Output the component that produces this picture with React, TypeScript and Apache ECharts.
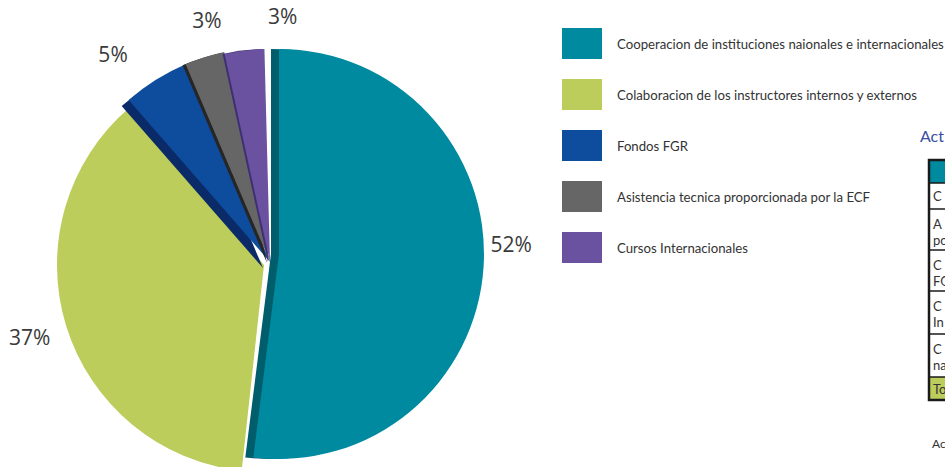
import React, { useEffect, useRef } from "react";
import * as echarts from "echarts";

// ---- data ----
const categories: string[] = [
  "Cooperacion de instituciones naionales e internacionales",
  "Colaboracion de los instructores internos y externos",
  "Fondos FGR",
  "Asistencia tecnica proporcionada por la ECF",
  "Cursos Internacionales",
];
const values: number[] = [52, 37, 5, 3, 3];

// visible fragments of the clipped table at the right edge
const tableTitle = "Act";
const tableRows: string[][] = [["C"], ["A", "po"], ["C", "FG"], ["C", "In"], ["C", "na"]];
const tableTotal = "To";
const footNote = "Ac";

// ---- styles / layout ----
const colors = ["#008a9f", "#bccd5b", "#0e4d9e", "#666666", "#6a52a1"];
const sideColors: (string | null)[] = ["#005e6c", null, "#0b2a68", "#262626", "#3e2f72"];
const centers: number[][] = [
  [279, 254],
  [264, 265],
  [270, 262],
  [270, 262],
  [270, 262],
];
const radii = [205, 207, 215, 215, 213];
const startAngles = [90, 91, 91.5, 91.5, 91.5];
const sideOffsets: number[][] = [
  [-8, 0],
  [0, 0],
  [-7, 6],
  [-3, 1],
  [-2, 0],
];
const labelShift: number[][] = [
  [2, -23],
  [-11, 11],
  [-23, -26],
  [22, -37],
  [58, -35],
];

function slicePie(i: number, color: string, dx: number, dy: number, withLabel: boolean) {
  return {
    type: "pie",
    silent: true,
    clockwise: true,
    startAngle: startAngles[i],
    center: [centers[i][0] + dx, centers[i][1] + dy],
    radius: [0, radii[i]],
    avoidLabelOverlap: false,
    label: {
      show: withLabel,
      position: "outside",
      formatter: (p: any) => Math.round(p.percent) + "%",
      fontFamily: "Open Sans",
      fontSize: 21,
      color: "#3a3a3a",
      distanceToLabelLine: 5,
    },
    labelLine: { show: false, length: 0, length2: 0 },
    labelLayout: withLabel ? { dx: labelShift[i][0], dy: labelShift[i][1] } : undefined,
    itemStyle: { borderWidth: 0 },
    emphasis: { disabled: true },
    data: values.map((v, j) => ({
      value: v,
      name: categories[j],
      itemStyle: { color: j === i ? color : "rgba(0,0,0,0)", borderWidth: 0 },
      label: { show: withLabel && j === i },
    })),
  };
}

export default function App() {
  const ref = useRef<HTMLDivElement>(null);
  useEffect(() => {
    if (!ref.current) return;
    const chart = echarts.init(ref.current, null, { renderer: "svg" });

    const series: any[] = [];
    values.forEach((_, i) => {
      const sc = sideColors[i];
      if (sc) series.push(slicePie(i, sc, sideOffsets[i][0], sideOffsets[i][1], false));
      series.push(slicePie(i, colors[i], 0, 0, true));
    });

    // table graphics
    const tx = 929;
    const rowLines = [183, 209, 250, 291, 334, 377];
    const rowTextY: number[][] = [[196], [224, 240], [265, 281], [306, 322], [349, 365]];
    const graphic: any[] = [
      {
        type: "text",
        x: 920,
        y: 135,
        style: { text: tableTitle, fill: "#3b4ea0", font: "16px Lato", verticalAlign: "middle" },
      },
      { type: "rect", shape: { x: tx, y: 160, width: 30, height: 23 }, style: { fill: colors[0] } },
      { type: "rect", shape: { x: tx, y: 377, width: 30, height: 23 }, style: { fill: colors[1] } },
      ...rowLines.map((y) => ({
        type: "line",
        shape: { x1: tx, y1: y, x2: 960, y2: y },
        style: { stroke: "#1a1a1a", lineWidth: 1.5 },
      })),
      {
        type: "rect",
        shape: { x: tx, y: 160, width: 40, height: 240 },
        style: { fill: "none", stroke: "#1a1a1a", lineWidth: 2.5 },
      },
      ...tableRows.flatMap((row, r) =>
        row.map((t, k) => ({
          type: "text",
          x: 933,
          y: rowTextY[r][k],
          style: { text: t, fill: "#333", font: "13px Lato", verticalAlign: "middle" },
        }))
      ),
      {
        type: "text",
        x: 933,
        y: 389,
        style: { text: tableTotal, fill: "#333", font: "13px Lato", verticalAlign: "middle" },
      },
      {
        type: "text",
        x: 932,
        y: 443,
        style: { text: footNote, fill: "#333", font: "12px Lato", verticalAlign: "middle" },
      },
    ];

    chart.setOption({
      animation: false,
      backgroundColor: "#ffffff",
      legend: {
        orient: "vertical",
        left: 562,
        top: 28,
        padding: 0,
        itemWidth: 40,
        itemHeight: 31,
        itemGap: 20,
        icon: "rect",
        selectedMode: false,
        textStyle: { fontFamily: "Lato", fontSize: 13.2, color: "#333", padding: [0, 0, 0, 10] },
        data: categories.map((c, i) => ({ name: c, itemStyle: { color: colors[i] } })),
      },
      graphic,
      series,
    });
    return () => chart.dispose();
  }, []);
  return (
    <div
      ref={ref}
      style={{ position: "fixed", left: 0, top: 0, width: 945, height: 467, background: "#fff" }}
    />
  );
}
